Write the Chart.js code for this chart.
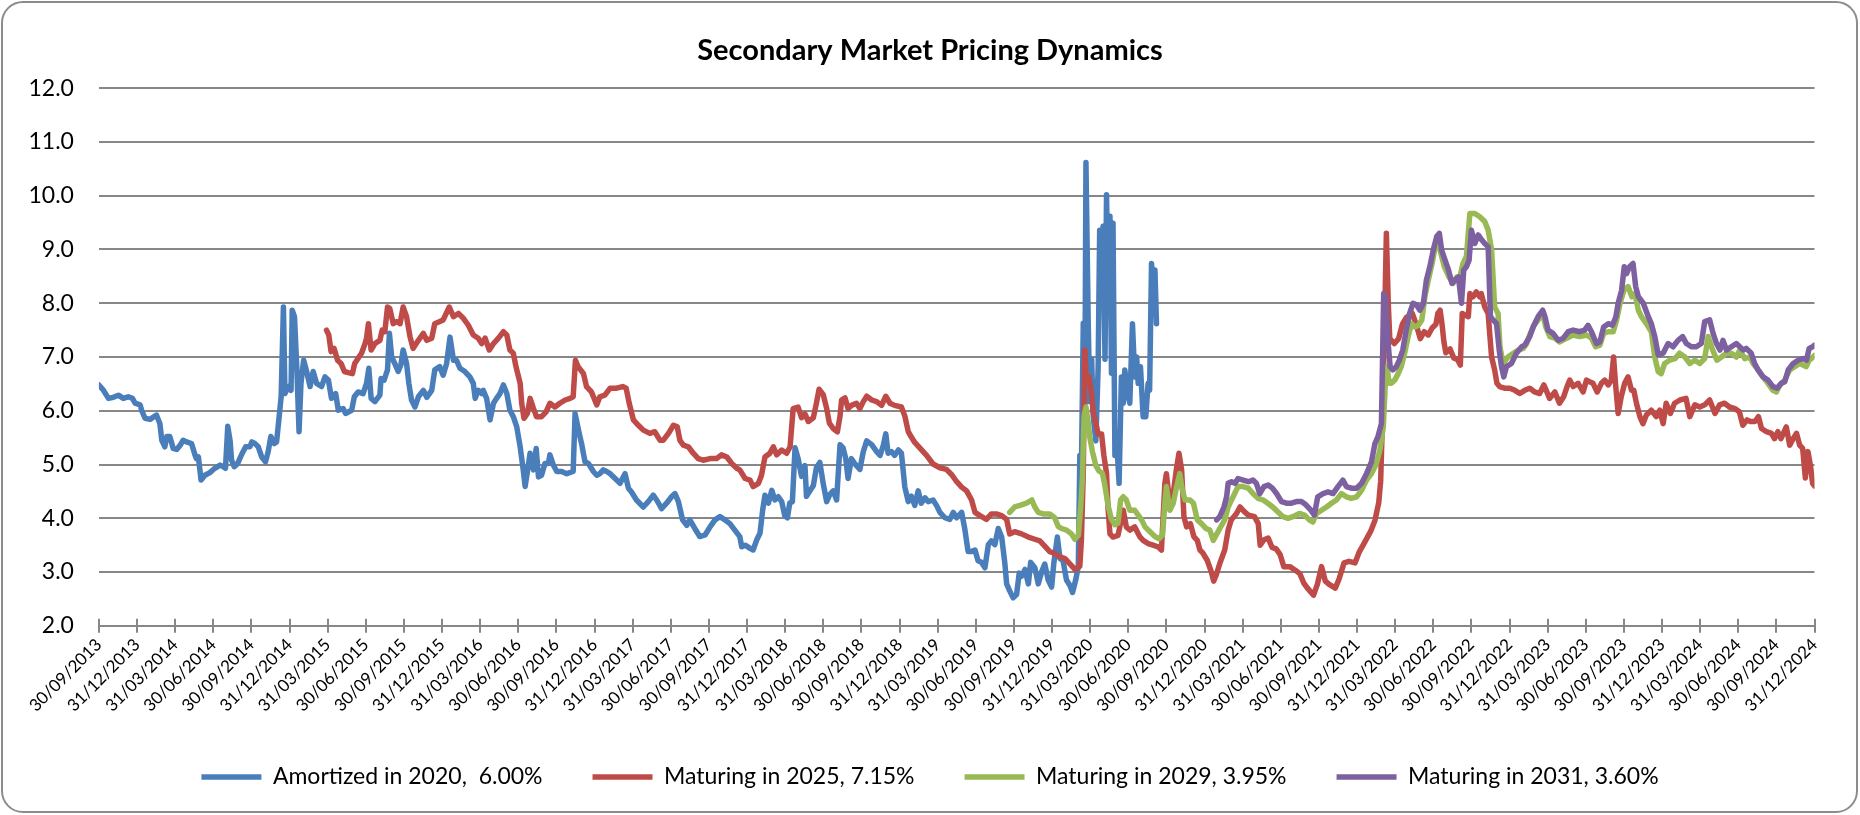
<!DOCTYPE html>
<html>
<head>
<meta charset="utf-8">
<script src="https://cdn.jsdelivr.net/npm/chart.js@4.4.1/dist/chart.umd.min.js"></script>
<style>
html,body{margin:0;padding:0;background:#fff;overflow:hidden;}
#wrap{position:relative;width:1860px;height:815px;}
#frame{position:absolute;left:1px;top:1px;width:1857px;height:812px;box-sizing:border-box;border:2px solid #8c8c8c;border-radius:22px;pointer-events:none;}
</style>
</head>
<body>
<div id="wrap"><canvas id="c"></canvas><div id="frame"></div></div>
<script>
// ---- tick labels (quarter ends) ----
const tickLabels = [
 "30/09/2013","31/12/2013","31/03/2014","30/06/2014","30/09/2014","31/12/2014",
 "31/03/2015","30/06/2015","30/09/2015","31/12/2015","31/03/2016","30/06/2016",
 "30/09/2016","31/12/2016","31/03/2017","30/06/2017","30/09/2017","31/12/2017",
 "31/03/2018","30/06/2018","30/09/2018","31/12/2018","31/03/2019","30/06/2019",
 "30/09/2019","31/12/2019","31/03/2020","30/06/2020","30/09/2020","31/12/2020",
 "31/03/2021","30/06/2021","30/09/2021","31/12/2021","31/03/2022","30/06/2022",
 "30/09/2022","31/12/2022","31/03/2023","30/06/2023","30/09/2023","31/12/2023",
 "31/03/2024","30/06/2024","30/09/2024","31/12/2024"];
const yTickValues = [2,3,4,5,6,7,8,9,10,11,12];

const seriesNames = ["Amortized in 2020,  6.00%","Maturing in 2025, 7.15%","Maturing in 2029, 3.95%","Maturing in 2031, 3.60%"];

// ---- series: position in quarters since 30/09/2013, and value ----
const amortizedQ = [0.00,0.12,0.25,0.38,0.51,0.64,0.77,0.88,0.95,1.08,1.12,1.21,1.34,1.51,1.60,1.65,1.73,1.78,1.86,1.95,2.04,2.13,2.21,2.30,2.43,2.52,2.56,2.61,2.68,2.78,2.91,3.04,3.18,3.26,3.32,3.38,3.44,3.48,3.55,3.64,3.74,3.85,3.96,4.01,4.09,4.18,4.27,4.37,4.44,4.51,4.60,4.66,4.72,4.78,4.84,4.88,4.97,5.04,5.07,5.13,5.19,5.25,5.30,5.37,5.45,5.54,5.62,5.71,5.84,5.93,6.02,6.10,6.21,6.28,6.41,6.47,6.63,6.70,6.80,6.93,7.02,7.08,7.14,7.24,7.37,7.40,7.48,7.57,7.62,7.68,7.76,7.85,7.92,7.98,8.07,8.13,8.20,8.29,8.38,8.51,8.60,8.73,8.81,8.94,9.03,9.12,9.21,9.30,9.38,9.47,9.60,9.73,9.82,9.87,9.95,10.04,10.08,10.17,10.26,10.35,10.43,10.52,10.61,10.70,10.78,10.87,10.96,11.05,11.13,11.18,11.26,11.31,11.40,11.47,11.53,11.61,11.70,11.79,11.83,11.92,12.01,12.14,12.27,12.44,12.49,12.58,12.66,12.75,12.84,12.97,13.06,13.14,13.23,13.32,13.41,13.54,13.67,13.80,13.89,13.97,14.10,14.28,14.41,14.54,14.63,14.76,14.89,15.02,15.11,15.20,15.31,15.42,15.50,15.63,15.76,15.90,16.03,16.16,16.29,16.42,16.55,16.68,16.81,16.86,16.95,17.08,17.16,17.25,17.34,17.41,17.47,17.56,17.65,17.73,17.82,17.91,17.99,18.06,18.12,18.19,18.26,18.34,18.43,18.52,18.56,18.65,18.74,18.82,18.91,19.00,19.09,19.17,19.26,19.35,19.44,19.52,19.59,19.65,19.74,19.83,19.96,20.05,20.14,20.27,20.40,20.49,20.57,20.64,20.70,20.79,20.87,20.97,21.05,21.14,21.23,21.31,21.40,21.49,21.57,21.67,21.75,21.88,21.97,22.06,22.19,22.32,22.41,22.50,22.63,22.71,22.80,22.89,22.98,23.06,23.15,23.24,23.33,23.41,23.50,23.59,23.68,23.76,23.81,23.89,23.98,24.07,24.14,24.20,24.29,24.38,24.44,24.55,24.64,24.73,24.81,24.90,24.99,25.05,25.14,25.21,25.29,25.38,25.47,25.54,25.63,25.69,25.73,25.77,25.82,25.86,25.89,25.95,25.99,26.04,26.08,26.15,26.21,26.25,26.30,26.34,26.39,26.43,26.47,26.52,26.56,26.60,26.65,26.69,26.76,26.82,26.87,26.91,26.97,27.04,27.11,27.17,27.22,27.26,27.32,27.39,27.46,27.52,27.56,27.61,27.65,27.70,27.74];
const amortizedV = [6.48,6.38,6.23,6.25,6.29,6.23,6.26,6.23,6.14,6.11,6.01,5.86,5.84,5.92,5.76,5.45,5.33,5.52,5.52,5.30,5.28,5.36,5.45,5.42,5.39,5.18,5.11,5.14,4.71,4.80,4.85,4.93,4.99,4.96,4.93,5.71,5.45,5.08,4.96,5.02,5.18,5.33,5.33,5.42,5.39,5.33,5.14,5.05,5.24,5.52,5.39,5.42,5.83,6.26,7.93,6.32,6.45,6.38,7.87,7.75,6.82,5.61,6.51,6.94,6.73,6.45,6.73,6.51,6.45,6.63,6.57,6.23,6.32,6.01,6.04,5.95,6.01,6.26,6.35,6.32,6.51,6.79,6.23,6.17,6.29,6.60,6.57,6.76,7.44,7.00,6.88,6.73,6.85,7.13,6.88,6.51,6.20,6.07,6.26,6.38,6.25,6.38,6.76,6.82,6.66,6.88,7.37,6.94,6.94,6.79,6.73,6.63,6.51,6.23,6.38,6.32,6.38,6.23,5.83,6.14,6.23,6.32,6.48,6.32,6.01,5.89,5.70,5.33,4.90,4.59,4.96,5.21,4.90,5.30,4.77,4.80,5.02,5.02,5.18,4.99,4.87,4.87,4.83,4.87,5.95,5.64,5.39,5.05,5.02,4.87,4.80,4.83,4.90,4.87,4.83,4.74,4.65,4.83,4.56,4.49,4.34,4.21,4.31,4.43,4.34,4.18,4.28,4.40,4.46,4.31,3.97,3.87,3.97,3.81,3.66,3.69,3.84,3.97,4.03,3.97,3.90,3.78,3.66,3.47,3.50,3.44,3.41,3.59,3.72,4.15,4.43,4.28,4.52,4.34,4.40,4.31,4.05,4.01,4.28,4.31,5.31,5.11,4.78,4.98,4.41,4.51,4.61,4.94,5.04,4.64,4.31,4.44,4.51,4.34,5.37,5.31,5.11,4.74,5.11,5.01,4.91,5.24,5.44,5.37,5.24,5.17,5.34,5.57,5.21,5.24,5.17,5.27,5.21,4.58,4.31,4.41,4.24,4.51,4.28,4.38,4.31,4.34,4.24,4.11,4.01,3.98,4.11,4.01,4.11,3.81,3.38,3.38,3.41,3.21,3.18,3.08,3.51,3.58,3.51,3.81,3.65,3.18,2.78,2.65,2.52,2.58,2.98,2.92,3.05,2.78,3.18,3.08,2.78,3.01,3.15,2.85,2.72,3.18,3.65,3.25,3.21,2.85,2.75,2.62,2.88,3.11,5.17,4.84,7.63,5.77,10.62,7.63,6.17,6.96,5.90,5.44,6.80,9.36,8.83,9.43,6.96,10.02,8.16,9.62,6.70,9.49,5.17,5.51,4.65,6.63,6.14,6.76,6.38,6.14,7.62,6.63,7.00,6.51,6.82,5.89,5.89,6.51,6.38,8.74,8.37,8.62,7.62];

const m2025Q = [5.97,6.03,6.09,6.17,6.26,6.35,6.44,6.54,6.65,6.71,6.82,6.89,6.98,7.02,7.07,7.14,7.24,7.37,7.43,7.50,7.57,7.63,7.72,7.81,7.90,7.98,8.07,8.16,8.24,8.38,8.51,8.60,8.73,8.81,8.94,9.03,9.19,9.30,9.43,9.56,9.69,9.82,9.95,10.04,10.13,10.24,10.35,10.48,10.61,10.70,10.78,10.87,10.94,11.05,11.09,11.15,11.24,11.31,11.40,11.48,11.61,11.73,11.83,11.96,12.09,12.23,12.36,12.44,12.50,12.57,12.71,12.79,12.92,13.06,13.14,13.27,13.41,13.58,13.74,13.83,13.91,14.02,14.15,14.28,14.45,14.58,14.72,14.80,14.94,15.07,15.17,15.24,15.33,15.46,15.59,15.72,15.85,16.03,16.20,16.33,16.47,16.60,16.73,16.81,16.95,17.08,17.16,17.30,17.38,17.47,17.60,17.69,17.78,17.91,18.04,18.13,18.21,18.34,18.43,18.52,18.61,18.74,18.82,18.89,19.00,19.09,19.16,19.26,19.37,19.44,19.48,19.57,19.65,19.74,19.87,19.96,20.05,20.14,20.27,20.40,20.53,20.64,20.75,20.87,21.05,21.14,21.23,21.31,21.40,21.53,21.71,21.88,22.06,22.23,22.37,22.50,22.63,22.76,22.89,22.98,23.11,23.28,23.41,23.54,23.68,23.81,23.89,24.02,24.20,24.38,24.55,24.68,24.81,24.94,25.06,25.21,25.34,25.47,25.60,25.73,25.77,25.82,25.86,25.90,25.97,26.04,26.08,26.15,26.21,26.30,26.36,26.43,26.47,26.52,26.60,26.73,26.87,26.95,27.04,27.17,27.30,27.39,27.52,27.65,27.78,27.87,27.96,28.00,28.09,28.18,28.26,28.33,28.40,28.46,28.53,28.63,28.72,28.81,28.88,28.96,29.07,29.18,29.24,29.31,29.40,29.53,29.62,29.70,29.84,29.93,30.05,30.15,30.31,30.41,30.46,30.56,30.67,30.77,30.88,30.98,31.08,31.24,31.39,31.50,31.60,31.70,31.86,31.96,32.07,32.17,32.27,32.43,32.53,32.66,32.79,32.95,33.05,33.16,33.26,33.36,33.47,33.57,33.62,33.67,33.73,33.77,33.82,33.86,33.98,34.09,34.19,34.30,34.45,34.55,34.66,34.76,34.87,34.97,35.07,35.12,35.18,35.23,35.28,35.33,35.44,35.54,35.64,35.71,35.76,35.83,35.92,35.96,36.04,36.13,36.22,36.26,36.35,36.44,36.48,36.53,36.61,36.67,36.74,36.87,37.01,37.14,37.27,37.40,37.53,37.66,37.79,37.90,37.98,38.05,38.19,38.31,38.42,38.51,38.58,38.67,38.80,38.93,39.02,39.10,39.19,39.30,39.41,39.50,39.59,39.67,39.73,39.78,39.85,39.93,40.02,40.11,40.20,40.26,40.33,40.42,40.50,40.59,40.72,40.85,40.94,41.03,41.11,41.22,41.33,41.47,41.63,41.73,41.86,41.99,42.12,42.25,42.39,42.51,42.64,42.77,42.91,43.03,43.12,43.23,43.32,43.44,43.53,43.61,43.74,43.87,43.95,44.04,44.12,44.26,44.35,44.44,44.53,44.61,44.69,44.76,44.83,44.90,44.95,45.00];
const m2025V = [7.50,7.41,7.10,7.16,6.94,6.88,6.73,6.71,6.69,6.88,7.00,7.07,7.25,7.35,7.62,7.13,7.25,7.31,7.50,7.47,7.93,7.90,7.62,7.66,7.62,7.93,7.75,7.38,7.16,7.31,7.44,7.31,7.35,7.62,7.66,7.69,7.93,7.75,7.81,7.72,7.59,7.41,7.35,7.25,7.35,7.13,7.25,7.35,7.47,7.41,7.13,7.07,6.82,6.51,6.14,5.86,5.95,6.23,6.04,5.89,5.89,5.98,6.14,6.07,6.14,6.20,6.23,6.26,6.94,6.82,6.69,6.45,6.35,6.11,6.26,6.29,6.42,6.42,6.45,6.42,6.14,5.83,5.73,5.64,5.58,5.61,5.45,5.45,5.58,5.73,5.70,5.45,5.36,5.33,5.21,5.11,5.08,5.11,5.11,5.18,5.14,5.02,4.93,4.90,4.74,4.71,4.59,4.65,4.80,5.14,5.21,5.33,5.18,5.27,5.21,5.33,6.04,6.07,5.87,5.94,5.80,5.87,6.14,6.40,6.30,6.04,5.77,5.67,5.61,5.90,6.20,6.24,6.04,6.10,6.14,6.04,6.17,6.27,6.20,6.17,6.10,6.27,6.14,6.10,6.07,5.90,5.61,5.51,5.41,5.31,5.17,5.01,4.94,4.91,4.81,4.68,4.58,4.51,4.34,4.11,4.05,3.98,4.08,4.08,4.05,3.98,3.71,3.75,3.71,3.65,3.61,3.58,3.48,3.38,3.35,3.28,3.25,3.15,3.05,3.11,3.58,4.84,7.13,6.50,6.63,6.30,5.97,5.77,5.57,5.57,5.17,4.84,4.18,3.71,3.65,3.68,4.15,3.84,3.78,3.84,3.66,3.59,3.53,3.50,3.47,3.41,4.65,4.83,4.28,4.46,4.90,5.21,4.90,4.03,3.84,3.90,3.66,3.59,3.41,3.35,3.22,3.00,2.83,2.95,3.16,3.41,3.78,3.97,4.09,4.21,4.12,4.06,4.03,3.90,3.50,3.60,3.63,3.46,3.43,3.33,3.10,3.10,3.03,2.97,2.80,2.70,2.57,2.77,3.10,2.83,2.77,2.70,2.87,3.17,3.20,3.17,3.36,3.50,3.63,3.76,3.96,4.29,4.69,5.88,7.87,9.30,8.00,7.34,7.25,7.34,7.61,7.74,7.81,7.61,7.34,7.47,7.41,7.54,7.61,7.81,7.87,7.61,7.28,7.08,7.15,6.98,6.95,6.85,7.81,7.78,7.75,8.18,8.12,8.21,8.12,8.18,7.93,7.81,7.44,7.00,6.76,6.51,6.45,6.42,6.42,6.38,6.32,6.38,6.42,6.35,6.32,6.48,6.35,6.23,6.35,6.14,6.26,6.45,6.57,6.45,6.51,6.35,6.57,6.54,6.51,6.35,6.51,6.57,6.48,6.57,7.00,6.51,5.95,6.26,6.51,6.63,6.38,6.38,6.14,5.89,5.76,5.92,6.01,5.89,6.01,5.76,6.14,5.95,6.14,6.20,6.23,5.89,6.11,6.07,6.11,6.20,5.95,6.11,6.14,6.07,6.04,5.98,5.73,5.83,5.80,5.80,5.89,5.67,5.61,5.58,5.48,5.61,5.48,5.70,5.36,5.48,5.58,5.36,5.30,4.75,5.24,4.95,4.65,4.60];

const m2029Q = [23.89,24.02,24.16,24.33,24.47,24.55,24.64,24.77,24.94,25.07,25.16,25.25,25.38,25.51,25.60,25.69,25.75,25.80,25.84,25.89,25.95,25.99,26.06,26.15,26.23,26.32,26.38,26.47,26.56,26.65,26.73,26.80,26.87,26.95,27.04,27.17,27.26,27.35,27.44,27.57,27.70,27.81,27.90,27.96,28.00,28.09,28.18,28.27,28.35,28.42,28.49,28.62,28.71,28.81,28.92,29.04,29.14,29.23,29.33,29.40,29.53,29.62,29.75,29.88,30.01,30.15,30.27,30.41,30.54,30.66,30.79,30.92,31.06,31.19,31.32,31.49,31.62,31.75,31.84,31.94,32.07,32.20,32.33,32.46,32.59,32.72,32.85,32.99,33.12,33.25,33.38,33.51,33.60,33.69,33.75,33.79,33.84,33.90,33.99,34.08,34.16,34.25,34.34,34.43,34.52,34.61,34.70,34.78,34.87,34.97,35.05,35.14,35.20,35.29,35.41,35.52,35.62,35.70,35.78,35.87,35.96,36.09,36.22,36.35,36.44,36.53,36.61,36.70,36.75,36.83,36.96,37.10,37.23,37.36,37.45,37.53,37.62,37.75,37.87,37.95,38.06,38.19,38.32,38.50,38.67,38.84,39.02,39.15,39.26,39.37,39.47,39.59,39.72,39.81,39.90,40.00,40.11,40.21,40.29,40.38,40.46,40.59,40.72,40.81,40.90,40.98,41.07,41.20,41.34,41.46,41.60,41.73,41.86,41.99,42.12,42.21,42.33,42.44,42.56,42.69,42.82,42.95,43.04,43.17,43.30,43.39,43.52,43.65,43.78,43.91,44.00,44.09,44.22,44.35,44.48,44.61,44.70,44.78,44.86,44.92,45.00];
const m2029V = [4.11,4.21,4.24,4.28,4.34,4.21,4.11,4.08,4.08,4.01,3.85,3.81,3.78,3.71,3.61,3.68,4.18,4.78,5.90,6.07,5.77,5.51,5.24,4.98,4.88,4.84,4.64,4.24,3.98,3.88,3.91,4.34,4.40,4.34,4.15,4.15,4.06,3.97,3.84,3.75,3.66,3.62,3.69,4.28,4.59,4.15,4.28,4.59,4.83,4.52,4.34,4.34,4.28,3.97,3.90,3.81,3.78,3.59,3.72,3.81,3.97,4.21,4.40,4.59,4.59,4.56,4.46,4.37,4.34,4.28,4.21,4.12,4.03,4.00,4.03,4.09,4.06,3.97,3.93,4.09,4.15,4.21,4.28,4.34,4.46,4.40,4.37,4.40,4.52,4.71,4.83,5.02,5.27,5.70,6.63,6.82,6.51,6.51,6.57,6.69,6.82,7.07,7.38,7.62,7.56,7.59,7.69,8.12,8.43,8.74,9.05,9.11,8.93,8.68,8.49,8.37,8.49,8.49,8.74,8.87,9.67,9.67,9.61,9.52,9.36,8.99,7.93,7.81,7.19,6.88,7.00,7.07,7.13,7.16,7.25,7.41,7.56,7.69,7.81,7.56,7.38,7.35,7.28,7.35,7.41,7.38,7.41,7.35,7.19,7.22,7.44,7.47,7.47,7.69,8.00,8.24,8.31,8.12,8.18,7.87,7.75,7.62,7.47,7.00,6.73,6.69,6.88,6.94,6.97,7.07,7.00,6.88,6.94,6.88,6.97,7.38,7.13,6.94,7.00,7.07,7.07,7.00,7.13,6.97,7.00,6.88,6.76,6.63,6.51,6.38,6.35,6.48,6.57,6.76,6.82,6.88,6.85,6.82,6.94,6.97,7.03];

const m2031Q = [29.32,29.40,29.51,29.58,29.62,29.71,29.80,29.88,30.01,30.15,30.27,30.36,30.45,30.56,30.67,30.78,30.89,31.02,31.15,31.28,31.41,31.54,31.66,31.79,31.88,31.97,32.11,32.24,32.37,32.50,32.63,32.72,32.85,32.99,33.12,33.25,33.38,33.47,33.55,33.64,33.70,33.75,33.81,33.87,33.94,34.03,34.11,34.20,34.29,34.38,34.47,34.56,34.65,34.74,34.82,34.91,35.00,35.09,35.16,35.22,35.31,35.40,35.49,35.57,35.66,35.74,35.80,35.87,35.94,36.00,36.09,36.18,36.27,36.35,36.44,36.50,36.57,36.66,36.73,36.79,36.85,36.92,37.05,37.18,37.32,37.40,37.53,37.64,37.75,37.87,37.93,38.01,38.14,38.28,38.41,38.54,38.67,38.84,38.97,39.06,39.15,39.28,39.37,39.47,39.59,39.70,39.79,39.85,39.94,40.01,40.07,40.15,40.24,40.31,40.38,40.51,40.64,40.72,40.81,40.90,41.03,41.16,41.29,41.42,41.54,41.64,41.77,41.90,42.03,42.12,42.25,42.34,42.43,42.52,42.60,42.69,42.82,42.95,43.04,43.13,43.21,43.34,43.43,43.52,43.65,43.78,43.91,44.02,44.13,44.22,44.31,44.44,44.57,44.70,44.79,44.86,44.95,45.00];
const m2031V = [3.97,4.03,4.21,4.40,4.65,4.68,4.65,4.74,4.71,4.68,4.71,4.65,4.46,4.59,4.62,4.56,4.46,4.31,4.28,4.28,4.31,4.31,4.25,4.15,4.06,4.40,4.46,4.49,4.46,4.59,4.71,4.59,4.56,4.56,4.65,4.83,5.05,5.39,5.52,5.76,8.18,8.12,7.31,6.82,6.76,6.82,6.94,7.13,7.50,7.81,8.00,7.97,7.87,8.00,8.43,8.68,8.99,9.24,9.30,8.99,8.80,8.62,8.37,8.43,8.49,8.00,8.62,8.68,8.80,9.36,9.11,9.27,9.18,9.11,9.05,7.75,7.69,7.62,7.13,6.82,6.63,6.82,6.88,7.07,7.19,7.22,7.38,7.59,7.75,7.87,7.75,7.50,7.44,7.31,7.35,7.47,7.50,7.47,7.50,7.59,7.47,7.25,7.28,7.56,7.62,7.59,7.75,8.00,8.24,8.68,8.55,8.68,8.74,8.31,8.12,8.00,7.75,7.62,7.38,7.04,7.07,7.25,7.19,7.31,7.38,7.25,7.19,7.19,7.25,7.66,7.69,7.44,7.25,7.13,7.31,7.13,7.19,7.25,7.19,7.13,7.16,7.07,6.88,6.76,6.63,6.57,6.45,6.42,6.51,6.54,6.76,6.88,6.94,6.97,6.94,7.16,7.19,7.22];

const seriesColors = ["#4A7EBB","#BE4B48","#98B954","#7D60A0"];

// ---- layout constants (pixels) ----
const PLOT = {left: 98.9, right: 1814.5, top: 88.2, bottom: 625.8};
const TITLE_SIZE = 29, TITLE_CENTER = 51;
const LEGEND_SIZE = 23, LEGEND_PAD = 50, LEGEND_CENTER = 777;
const legendTop = LEGEND_CENTER - LEGEND_PAD - LEGEND_SIZE / 2;
const xAxisHeight = legendTop - PLOT.bottom;
const legendHeight = LEGEND_SIZE + LEGEND_PAD + 10;
const padBottom = 815 - legendTop - legendHeight;
const titleLine = TITLE_SIZE * 1.2;
const titlePadTop = TITLE_CENTER - titleLine / 2;
const titlePadBottom = PLOT.top - titlePadTop - titleLine;
const GRID = "#878787";

function toPoints(qs, vs) { return qs.map((q, i) => ({x: q, y: vs[i]})); }

const seriesData = [
  toPoints(amortizedQ, amortizedV),
  toPoints(m2025Q, m2025V),
  toPoints(m2029Q, m2029V),
  toPoints(m2031Q, m2031V)
];

Chart.defaults.font.family = "Lato, 'DejaVu Sans', sans-serif";
Chart.defaults.color = "#000";

const crossTicks = {
  id: 'crossTicks',
  afterDraw(chart) {
    const {ctx, chartArea, scales} = chart;
    const x = scales.x;
    ctx.save();
    ctx.strokeStyle = GRID;
    ctx.lineWidth = 2;
    for (let i = 0; i < x.ticks.length; i++) {
      const px = Math.round(x.getPixelForTick(i));
      ctx.beginPath();
      ctx.moveTo(px, chartArea.bottom - 7);
      ctx.lineTo(px, chartArea.bottom);
      ctx.stroke();
    }
    ctx.restore();
  }
};

new Chart(document.getElementById('c'), {
  type: 'line',
  data: {
    datasets: seriesData.map((d, i) => ({
      label: seriesNames[i],
      data: d,
      xAxisID: 'x',
      yAxisID: 'y',
      borderColor: seriesColors[i],
      backgroundColor: seriesColors[i],
      borderWidth: 5.5,
      pointRadius: 0,
      pointHoverRadius: 0,
      tension: 0,
      fill: false,
      borderJoinStyle: 'round',
      borderCapStyle: 'round',
      order: 4 - i
    }))
  },
  options: {
    responsive: true,
    maintainAspectRatio: false,
    animation: false,
    events: [],
    layout: {padding: {left: 0, right: 0, top: 0, bottom: padBottom}},
    plugins: {
      title: {
        display: true,
        text: 'Secondary Market Pricing Dynamics',
        color: '#000',
        font: {size: TITLE_SIZE, weight: 'bold'},
        padding: {top: titlePadTop, bottom: titlePadBottom}
      },
      legend: {
        position: 'bottom',
        labels: {
          usePointStyle: true,
          pointStyle: 'line',
          pointStyleWidth: 60,
          padding: LEGEND_PAD,
          color: '#000',
          font: {size: LEGEND_SIZE},
          sort: (a, b) => a.datasetIndex - b.datasetIndex
        }
      },
      tooltip: {enabled: false}
    },
    scales: {
      x: {
        type: 'linear',
        min: 0,
        max: tickLabels.length - 1,
        afterBuildTicks: s => { s.ticks = tickLabels.map((_, i) => ({value: i})); },
        afterFit: s => { s.height = xAxisHeight; },
        ticks: {
          autoSkip: false,
          maxRotation: 45,
          minRotation: 45,
          padding: 2,
          color: '#000',
          font: {size: 17},
          callback: v => tickLabels[Math.round(v)]
        },
        grid: {drawOnChartArea: false, drawTicks: true, tickLength: 7, color: GRID, lineWidth: 2},
        border: {display: true, color: GRID, width: 2}
      },
      y: {
        position: 'left',
        min: 2,
        max: 12,
        afterBuildTicks: s => { s.ticks = yTickValues.map(v => ({value: v})); },
        afterFit: s => { s.width = PLOT.left; },
        ticks: {
          padding: 25,
          color: '#000',
          font: {size: 23},
          callback: v => Number(v).toFixed(1)
        },
        grid: {color: GRID, lineWidth: 2, drawTicks: false},
        border: {display: false}
      },
      yRight: {
        position: 'right',
        display: true,
        min: 0,
        max: 1,
        afterFit: s => { s.width = 1860 - PLOT.right; },
        ticks: {display: false},
        grid: {display: false, drawOnChartArea: false, drawTicks: false},
        border: {display: false}
      }
    }
  },
  plugins: [crossTicks]
});
</script>
</body>
</html>
